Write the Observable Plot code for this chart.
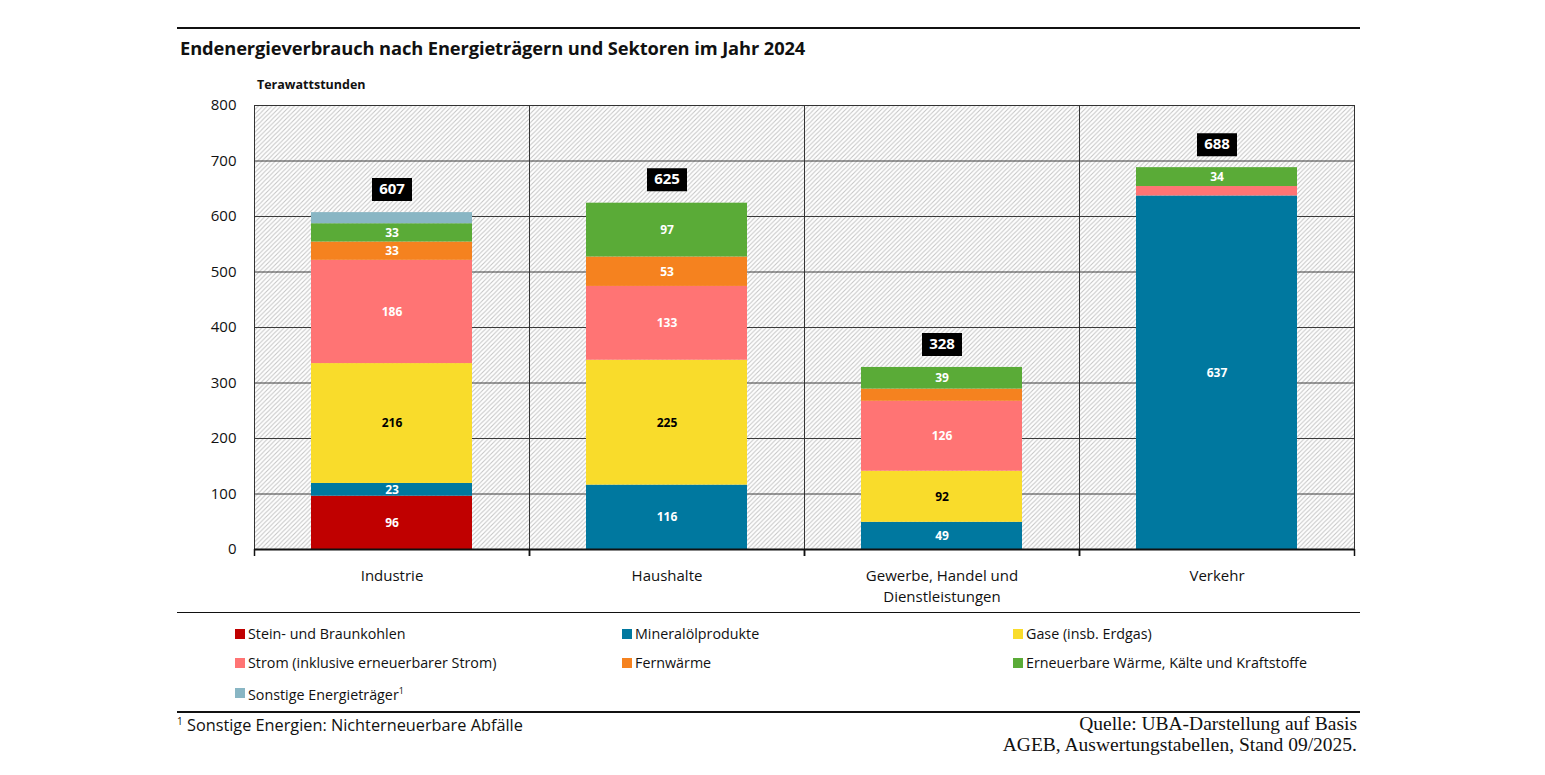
<!DOCTYPE html>
<html><head><meta charset="utf-8">
<script src="https://cdn.jsdelivr.net/npm/d3@7"></script>
<script src="https://cdn.jsdelivr.net/npm/@observablehq/plot@0.6"></script>
<style>
body{margin:0;background:#fff;font-family:"Open Sans",sans-serif;color:#111}
#wrap{position:relative;width:1545px;height:775px;overflow:hidden}
.rule{position:absolute;left:177px;width:1183px;background:#111}
#title{position:absolute;left:180px;top:35px;font-weight:700;font-size:18.3px;letter-spacing:-0.1px;white-space:nowrap}
#unit{position:absolute;left:257px;top:76px;font-weight:700;font-size:12.5px}
#chart{position:absolute;left:0;top:70px}
#legend{position:absolute;left:0;top:620px;width:1545px;height:90px}
.li{position:absolute;font-size:14.3px;white-space:nowrap;display:flex;align-items:center;line-height:20px}
.sw{display:inline-block;width:10px;height:10px;margin-right:3px}
#foot{position:absolute;left:177px;top:714px;font-size:16.3px}
#src{position:absolute;right:188px;top:713px;font-family:"Liberation Serif",serif;font-size:19.5px;text-align:right;line-height:21px}
</style></head><body><div id="wrap">
<div class="rule" style="top:27px;height:2px"></div>
<div id="title">Endenergieverbrauch nach Energieträgern und Sektoren im Jahr 2024</div>
<div id="unit">Terawattstunden</div>
<div id="chart"></div>
<div class="rule" style="top:612px;height:1px"></div>
<div id="legend"></div>
<div class="rule" style="top:711px;height:2px"></div>
<div id="foot"><sup style="font-size:10px">1</sup> Sonstige Energien: Nichterneuerbare Abfälle</div>
<div id="src">Quelle: UBA-Darstellung auf Basis<br>AGEB, Auswertungstabellen, Stand 09/2025.</div>
</div>
<script>
const sectors = ["Industrie", "Haushalte", "Gewerbe, Handel und Dienstleistungen", "Verkehr"];
const sectorLabels = ["Industrie", "Haushalte", "Gewerbe, Handel und\nDienstleistungen", "Verkehr"];
const carriers = ["Stein- und Braunkohlen", "Mineralölprodukte", "Gase (insb. Erdgas)", "Strom (inklusive erneuerbarer Strom)", "Fernwärme", "Erneuerbare Wärme, Kälte und Kraftstoffe", "Sonstige Energieträger"];
const carrierColors = ["#c00000", "#00789f", "#f9dc2b", "#ff7474", "#f5821f", "#5aab37", "#89b6c4"];
const industrie = [96, 23, 216, 186, 33, 33, 20];
const haushalte = [0, 116, 225, 133, 53, 97, 0];
const gewerbe = [0, 49, 92, 126, 22, 39, 0];
const verkehr = [0, 637, 0, 17, 0, 34, 0];
const totals = [607, 625, 328, 688];
const yTicks = [0, 100, 200, 300, 400, 500, 600, 700, 800];

const seriesBySector = [industrie, haushalte, gewerbe, verkehr];
const rows = [];
sectors.forEach((s, i) => {
  let acc = 0;
  seriesBySector[i].forEach((v, j) => {
    rows.push({sector: s, carrier: carriers[j], value: v, y0: acc, y1: acc + v, mid: acc + v / 2});
    acc += v;
  });
});
const totalRows = sectors.map((s, i) => ({sector: s, total: totals[i]}));
const labelOf = new Map(sectors.map((s, i) => [s, sectorLabels[i]]));
const gas = carriers[2];
const labelled = rows.filter(d => d.value >= 23);

// rectangular symbol used as the background box of the total labels
const boxSymbol = {draw(context) { context.rect(-20, -11.5, 40, 23); }};

const chart = Plot.plot({
  width: 1545, height: 540,
  marginTop: 35, marginBottom: 61, marginLeft: 253, marginRight: 191,
  style: {fontFamily: "'Open Sans', sans-serif", fontSize: "15px", color: "#111", background: "transparent"},
  fx: {domain: sectors, padding: 0, label: null},
  x: {domain: [0, 1]},
  y: {domain: [0, 800]},
  color: {domain: carriers, range: carrierColors},
  marks: [
    Plot.frame({fill: "url(#hatch)"}),
    Plot.ruleY(yTicks.slice(1), {y: d => d, stroke: "#3a3a3a", strokeWidth: 1}),
    Plot.barY(rows, {fx: "sector", y1: "y0", y2: "y1", fill: "carrier", insetLeft: 57, insetRight: 57}),
    Plot.frame({stroke: "#333", strokeWidth: 1}),
    Plot.ruleX([0, 1], {x: d => d, y1: () => 0, y2: () => 0, insetBottom: -7, stroke: "#111", strokeWidth: 1.5}),
    Plot.ruleY([0], {y: d => d, stroke: "#111", strokeWidth: 2}),
    Plot.text(labelled.filter(d => d.carrier !== gas), {fx: "sector", y: "mid", text: "value", fill: "white", fontWeight: "bold", fontSize: 12}),
    Plot.text(labelled.filter(d => d.carrier === gas), {fx: "sector", y: "mid", text: "value", fill: "black", fontWeight: "bold", fontSize: 12}),
    Plot.dot(totalRows, {fx: "sector", y: "total", dy: -23, symbol: boxSymbol, fill: "black", stroke: "none", r: 10}),
    Plot.text(totalRows, {fx: "sector", y: "total", text: d => String(d.total), dy: -23, fill: "white", fontWeight: "bold", fontSize: 15}),
    Plot.axisY({ticks: yTicks, tickSize: 0, tickPadding: 18, label: null, fontSize: 15}),
    Plot.axisFx({anchor: "bottom", tickSize: 0, tickPadding: 17, label: null, fontSize: 15, lineHeight: 1.4, tickFormat: s => labelOf.get(s)}),
    Plot.axisX({ticks: [], label: null})
  ]
});

const svg = d3.select(chart);
const defs = svg.insert("defs", ":first-child");
const pat = defs.append("pattern").attr("id", "hatch").attr("patternUnits", "userSpaceOnUse").attr("width", 4.5).attr("height", 4.5);
pat.append("rect").attr("width", 4.5).attr("height", 4.5).attr("fill", "#fff");
pat.append("path").attr("d", "M-1,1 l2,-2 M0,4.5 l4.5,-4.5 M3.5,5.5 l2,-2").attr("stroke", "#c4c4c4").attr("stroke-width", 1);

document.getElementById("chart").appendChild(chart);

// legend
const legend = d3.select("#legend");
const colX = [235, 622, 1013];
const rowY = [4, 33, 61];
carriers.forEach((c, i) => {
  const item = legend.append("div").attr("class", "li")
    .style("left", colX[i % 3] + "px").style("top", rowY[Math.floor(i / 3)] + "px");
  item.append("span").attr("class", "sw").style("background", carrierColors[i]);
  const t = item.append("span").text(c);
  if (i === 6) t.append("sup").style("font-size", "9px").text("1");
});
</script>
</body></html>
